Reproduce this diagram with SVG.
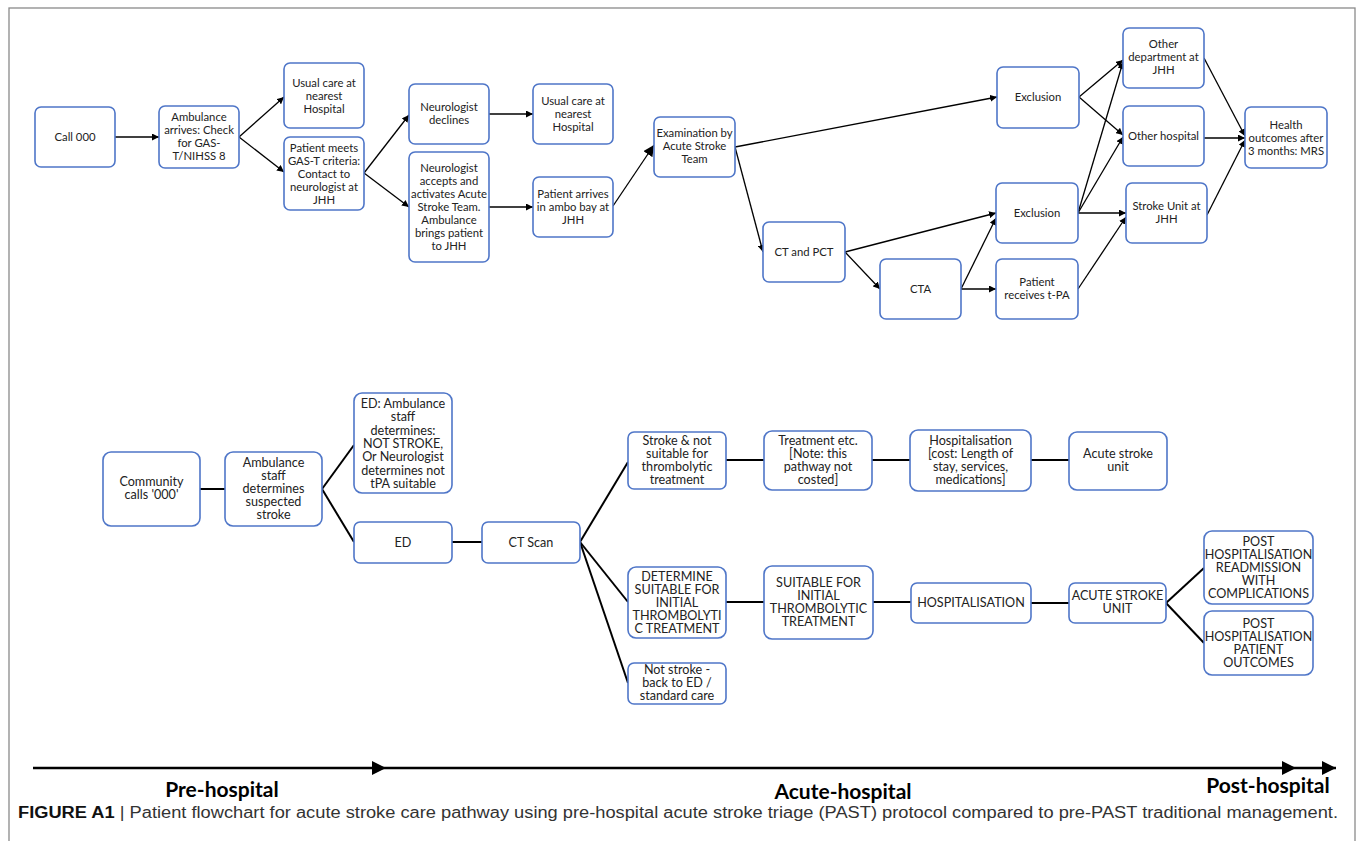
<svg xmlns="http://www.w3.org/2000/svg" width="1358" height="841" viewBox="0 0 1358 841">
<defs>
<style>
.n rect{fill:#fff;stroke:#4f76c8;stroke-width:1.6}
.t text{font-family:Lato,"Liberation Sans",sans-serif;font-size:11.3px;fill:#222;text-anchor:middle}
.b text{font-family:Lato,"Liberation Sans",sans-serif;font-size:12.6px;fill:#222;text-anchor:middle}
.a line{stroke:#000;stroke-width:1.3;fill:none}
.l line{stroke:#000;stroke-width:2;fill:none}
.tl line{stroke:#000;stroke-width:2.6}
.lab{font-family:Lato,"Liberation Sans",sans-serif;font-weight:bold;font-size:21px;fill:#000;text-anchor:middle}
</style>
<marker id="ah" viewBox="0 0 10 10" refX="10" refY="5" markerWidth="7" markerHeight="7" markerUnits="userSpaceOnUse" orient="auto"><path d="M0,0 L10,5 L0,10 z" fill="#000"/></marker>
<marker id="ahb" viewBox="0 0 10 10" refX="10" refY="5" markerWidth="11" markerHeight="11" markerUnits="userSpaceOnUse" orient="auto"><path d="M0,0 L10,5 L0,10 z" fill="#000"/></marker>
<marker id="ta" viewBox="0 0 10 10" refX="10" refY="5" markerWidth="14" markerHeight="14" markerUnits="userSpaceOnUse" orient="auto"><path d="M0,0 L10,5 L0,10 z" fill="#000"/></marker>
</defs>
<rect x="0" y="0" width="1358" height="841" fill="#fff"/>
<rect x="9" y="8" width="1346" height="850" fill="none" stroke="#8a8a8a" stroke-width="1.3"/>

<g id="connectors">
<g class="a">
<line x1="115" y1="137" x2="159" y2="137" marker-end="url(#ah)"/>
<line x1="239" y1="137" x2="284" y2="97" marker-end="url(#ah)"/>
<line x1="239" y1="137" x2="284" y2="172" marker-end="url(#ah)"/>
<line x1="364" y1="173" x2="409" y2="115" marker-end="url(#ah)"/>
<line x1="364" y1="173" x2="409" y2="207" marker-end="url(#ah)"/>
<line x1="489" y1="114" x2="533" y2="114" marker-end="url(#ah)"/>
<line x1="489" y1="207" x2="533" y2="207" marker-end="url(#ah)"/>
<line x1="613" y1="206" x2="654" y2="145" stroke-width="2.6" marker-end="url(#ahb)"/>
<line x1="735" y1="147" x2="997" y2="97" marker-end="url(#ah)"/>
<line x1="735" y1="147" x2="763" y2="252" marker-end="url(#ah)"/>
<line x1="845" y1="252" x2="996" y2="213" marker-end="url(#ah)"/>
<line x1="845" y1="252" x2="880" y2="289" marker-end="url(#ah)"/>
<line x1="961" y1="289" x2="996" y2="218" marker-end="url(#ah)"/>
<line x1="961" y1="289" x2="996" y2="289" marker-end="url(#ah)"/>
<line x1="1079" y1="97" x2="1123" y2="60" marker-end="url(#ah)"/>
<line x1="1079" y1="97" x2="1123" y2="135" marker-end="url(#ah)"/>
<line x1="1078" y1="213" x2="1123" y2="62" marker-end="url(#ah)"/>
<line x1="1078" y1="213" x2="1123" y2="137" marker-end="url(#ah)"/>
<line x1="1078" y1="213" x2="1126" y2="213" marker-end="url(#ah)"/>
<line x1="1078" y1="289" x2="1126" y2="217" marker-end="url(#ah)"/>
<line x1="1204" y1="58" x2="1245" y2="136" marker-end="url(#ah)"/>
<line x1="1204" y1="138" x2="1245" y2="138" marker-end="url(#ah)"/>
<line x1="1207" y1="215" x2="1245" y2="140" marker-end="url(#ah)"/>
</g>
<g class="l">
<line x1="200" y1="489" x2="225" y2="489" stroke-width="2.6"/>
<line x1="322" y1="489" x2="354" y2="445"/>
<line x1="322" y1="489" x2="354" y2="542"/>
<line x1="452" y1="542" x2="482" y2="542" stroke-width="2.6"/>
<line x1="580" y1="542" x2="628" y2="462"/>
<line x1="580" y1="542" x2="628" y2="602"/>
<line x1="580" y1="542" x2="628" y2="683"/>
<line x1="726" y1="460" x2="764" y2="460"/>
<line x1="872" y1="460" x2="910" y2="460"/>
<line x1="1031" y1="460" x2="1069" y2="460"/>
<line x1="726" y1="602" x2="764" y2="602"/>
<line x1="873" y1="602" x2="911" y2="602"/>
<line x1="1031" y1="603" x2="1069" y2="603"/>
<line x1="1166" y1="603" x2="1204" y2="568"/>
<line x1="1166" y1="603" x2="1204" y2="643"/>
</g>
</g>

<g class="t">
<g id="call000" class="n"><rect x="35" y="107" width="80" height="60" rx="6"/><text x="75" y="141">Call 000</text></g>
<g id="ambulance-arrives" class="n"><rect x="159" y="106" width="80" height="62" rx="6"/><text x="199" y="121">Ambulance</text><text x="199" y="134">arrives: Check</text><text x="199" y="147">for GAS-</text><text x="199" y="160">T/NIHSS 8</text></g>
<g id="usual-care-1" class="n"><rect x="284" y="63" width="80" height="65" rx="6"/><text x="324" y="87">Usual care at</text><text x="324" y="100">nearest</text><text x="324" y="113">Hospital</text></g>
<g id="patient-meets" class="n"><rect x="284" y="137" width="80" height="73" rx="6"/><text x="324" y="152">Patient meets</text><text x="324" y="165">GAS-T criteria:</text><text x="324" y="178">Contact to</text><text x="324" y="191">neurologist at</text><text x="324" y="204">JHH</text></g>
<g id="neurologist-declines" class="n"><rect x="409" y="84" width="80" height="60" rx="6"/><text x="449" y="111">Neurologist</text><text x="449" y="124">declines</text></g>
<g id="neurologist-accepts" class="n"><rect x="409" y="152" width="80" height="110" rx="6"/><text x="449" y="172">Neurologist</text><text x="449" y="185">accepts and</text><text x="449" y="198">activates Acute</text><text x="449" y="211">Stroke Team.</text><text x="449" y="224">Ambulance</text><text x="449" y="237">brings patient</text><text x="449" y="250">to JHH</text></g>
<g id="usual-care-2" class="n"><rect x="533" y="84" width="80" height="60" rx="6"/><text x="573" y="105">Usual care at</text><text x="573" y="118">nearest</text><text x="573" y="131">Hospital</text></g>
<g id="patient-arrives" class="n"><rect x="533" y="177" width="80" height="60" rx="6"/><text x="573" y="198">Patient arrives</text><text x="573" y="211">in ambo bay at</text><text x="573" y="224">JHH</text></g>
<g id="examination" class="n"><rect x="654" y="117" width="81" height="60" rx="6"/><text x="694.5" y="137">Examination by</text><text x="694.5" y="150">Acute Stroke</text><text x="694.5" y="163">Team</text></g>
<g id="ct-pct" class="n"><rect x="763" y="222" width="82" height="60" rx="6"/><text x="804" y="256">CT and PCT</text></g>
<g id="cta" class="n"><rect x="880" y="259" width="81" height="60" rx="6"/><text x="920.5" y="293">CTA</text></g>
<g id="exclusion-1" class="n"><rect x="997" y="67" width="82" height="61" rx="6"/><text x="1038" y="101">Exclusion</text></g>
<g id="exclusion-2" class="n"><rect x="996" y="183" width="82" height="60" rx="6"/><text x="1037" y="217">Exclusion</text></g>
<g id="receives-tpa" class="n"><rect x="996" y="259" width="82" height="60" rx="6"/><text x="1037" y="286">Patient</text><text x="1037" y="299">receives t-PA</text></g>
<g id="other-department" class="n"><rect x="1123" y="28" width="81" height="60" rx="6"/><text x="1163.5" y="48">Other</text><text x="1163.5" y="61">department at</text><text x="1163.5" y="74">JHH</text></g>
<g id="other-hospital" class="n"><rect x="1123" y="106" width="81" height="60" rx="6"/><text x="1163.5" y="140">Other hospital</text></g>
<g id="stroke-unit" class="n"><rect x="1126" y="183" width="81" height="60" rx="6"/><text x="1166.5" y="210">Stroke Unit at</text><text x="1166.5" y="223">JHH</text></g>
<g id="health-outcomes" class="n"><rect x="1245" y="107" width="82" height="61" rx="6"/><text x="1286" y="129">Health</text><text x="1286" y="142">outcomes after</text><text x="1286" y="155">3 months: MRS</text></g>
</g>

<g class="b">
<g id="community" class="n"><rect x="103" y="452" width="97" height="74" rx="8"/><text x="151.5" y="486">Community</text><text x="151.5" y="499">calls '000'</text></g>
<g id="ambulance-staff" class="n"><rect x="225" y="452" width="97" height="74" rx="8"/><text x="273.5" y="467">Ambulance</text><text x="273.5" y="480">staff</text><text x="273.5" y="493">determines</text><text x="273.5" y="506">suspected</text><text x="273.5" y="519">stroke</text></g>
<g id="ed-not-stroke" class="n"><rect x="354" y="393" width="98" height="100" rx="8"/><text x="403" y="408">ED: Ambulance</text><text x="403" y="421.3">staff</text><text x="403" y="434.6">determines:</text><text x="403" y="447.9">NOT STROKE,</text><text x="403" y="461.2">Or Neurologist</text><text x="403" y="474.5">determines not</text><text x="403" y="487.8">tPA suitable</text></g>
<g id="ed" class="n"><rect x="354" y="522" width="98" height="41" rx="6"/><text x="403" y="546.5">ED</text></g>
<g id="ct-scan" class="n"><rect x="482" y="522" width="98" height="41" rx="6"/><text x="531" y="546.5">CT Scan</text></g>
<g id="stroke-not-suitable" class="n"><rect x="628" y="432" width="98" height="57" rx="6"/><text x="677" y="445">Stroke &amp; not</text><text x="677" y="458">suitable for</text><text x="677" y="471">thrombolytic</text><text x="677" y="484">treatment</text></g>
<g id="treatment" class="n"><rect x="764" y="431" width="108" height="59" rx="8"/><text x="818" y="445">Treatment etc.</text><text x="818" y="458">[Note: this</text><text x="818" y="471">pathway not</text><text x="818" y="484">costed]</text></g>
<g id="hospitalisation-1" class="n"><rect x="910" y="430" width="121" height="61" rx="8"/><text x="970.5" y="445">Hospitalisation</text><text x="970.5" y="458">[cost: Length of</text><text x="970.5" y="471">stay, services,</text><text x="970.5" y="484">medications]</text></g>
<g id="acute-stroke-unit-1" class="n"><rect x="1069" y="432" width="98" height="58" rx="8"/><text x="1118" y="458">Acute stroke</text><text x="1118" y="471">unit</text></g>
<g id="determine-suitable" class="n"><rect x="628" y="567" width="98" height="71" rx="8"/><text x="677" y="581">DETERMINE</text><text x="677" y="594">SUITABLE FOR</text><text x="677" y="607">INITIAL</text><text x="677" y="620">THROMBOLYTI</text><text x="677" y="633">C TREATMENT</text></g>
<g id="suitable" class="n"><rect x="764" y="566" width="109" height="73" rx="8"/><text x="818.5" y="587">SUITABLE FOR</text><text x="818.5" y="600">INITIAL</text><text x="818.5" y="613">THROMBOLYTIC</text><text x="818.5" y="626">TREATMENT</text></g>
<g id="not-stroke" class="n"><rect x="628" y="663" width="98" height="41" rx="6"/><text x="677" y="674">Not stroke -</text><text x="677" y="687">back to ED /</text><text x="677" y="700">standard care</text></g>
<g id="hospitalisation-2" class="n"><rect x="911" y="583" width="120" height="40" rx="6"/><text x="971" y="607">HOSPITALISATION</text></g>
<g id="acute-stroke-unit-2" class="n"><rect x="1069" y="583" width="97" height="40" rx="6"/><text x="1117.5" y="600">ACUTE STROKE</text><text x="1117.5" y="613">UNIT</text></g>
<g id="post-readmission" class="n"><rect x="1204" y="531" width="109" height="73" rx="8"/><text x="1258.5" y="546">POST</text><text x="1258.5" y="559">HOSPITALISATION</text><text x="1258.5" y="572">READMISSION</text><text x="1258.5" y="585">WITH</text><text x="1258.5" y="598">COMPLICATIONS</text></g>
<g id="post-outcomes" class="n"><rect x="1204" y="611" width="109" height="64" rx="8"/><text x="1258.5" y="628">POST</text><text x="1258.5" y="641">HOSPITALISATION</text><text x="1258.5" y="654">PATIENT</text><text x="1258.5" y="667">OUTCOMES</text></g>
</g>

<g id="timeline">
<g class="tl">
<line x1="33" y1="768" x2="386" y2="768" marker-end="url(#ta)"/>
<line x1="386" y1="768" x2="1296" y2="768" marker-end="url(#ta)"/>
<line x1="1296" y1="768" x2="1336" y2="768" marker-end="url(#ta)"/>
</g>
<text class="lab" x="222" y="797">Pre-hospital</text>
<text class="lab" x="843" y="799">Acute-hospital</text>
<text class="lab" x="1268" y="793">Post-hospital</text>
</g>

<text x="18" y="818" font-family="'Liberation Sans',sans-serif" font-size="16" fill="#333" textLength="1320" lengthAdjust="spacingAndGlyphs"><tspan font-weight="bold" fill="#111">FIGURE A1</tspan> | Patient flowchart for acute stroke care pathway using pre-hospital acute stroke triage (PAST) protocol compared to pre-PAST traditional management.</text>
</svg>
